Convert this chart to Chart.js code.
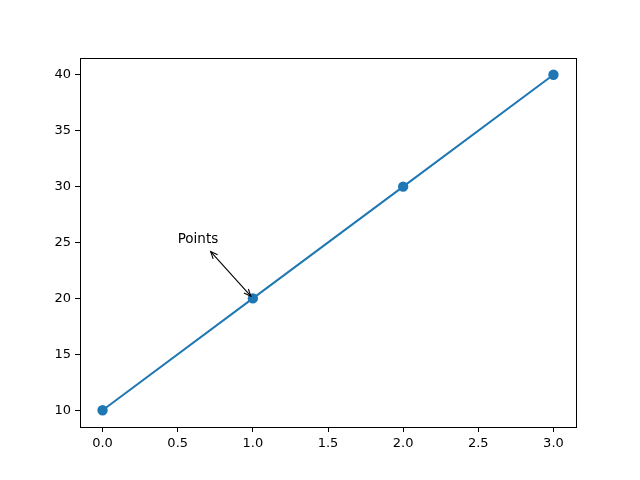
<!DOCTYPE html>
<html>
<head>
<meta charset="utf-8">
<script src="https://cdn.jsdelivr.net/npm/chart.js@4"></script>
<style>
  body { margin: 0; background: #fff; }
</style>
</head>
<body>
<canvas id="chart" width="640" height="480"></canvas>
<script>
const xValues = [0, 1, 2, 3]
const yValues = [10, 20, 30, 40]
const xTicks = [0, 0.5, 1, 1.5, 2, 2.5, 3]
const yTicks = [10, 15, 20, 25, 30, 35, 40]
const noteText = "Points"
const notePoint = [1, 20]
const noteTextAt = [0.5, 25]

const FONT = "'DejaVu Sans', sans-serif"

// box around the plot + the annotation with its two-headed arrow
const extras = {
  id: 'extras',
  afterDraw(chart) {
    const { ctx, chartArea: a, scales: { x, y } } = chart
    ctx.save()
    ctx.strokeStyle = '#000'
    ctx.lineWidth = 1
    ctx.strokeRect(Math.round(a.left) + 0.5, Math.round(a.top) + 0.5,
      Math.round(a.right - a.left), Math.round(a.bottom - a.top))

    const tx = x.getPixelForValue(noteTextAt[0])
    const ty = y.getPixelForValue(noteTextAt[1])
    ctx.font = '13.5px ' + FONT
    ctx.fillStyle = '#000'
    ctx.textBaseline = 'alphabetic'
    ctx.fillText(noteText, tx, ty)
    const w = ctx.measureText(noteText).width

    const cx = tx + w / 2, cy = ty - 5
    const px = x.getPixelForValue(notePoint[0])
    const py = y.getPixelForValue(notePoint[1])
    const dx = px - cx, dy = py - cy
    const len = Math.hypot(dx, dy)
    const ux = dx / len, uy = dy / len
    const sx = cx + ux * 19, sy = cy + uy * 19
    const ex = px - ux * 3, ey = py - uy * 3
    ctx.beginPath()
    ctx.moveTo(sx, sy)
    ctx.lineTo(ex, ey)
    ctx.lineWidth = 1.1
    ctx.stroke()
    const head = (hx, hy, dirx, diry) => {
      const l = 7, s = 3
      ctx.beginPath()
      ctx.moveTo(hx - dirx * l - diry * s, hy - diry * l + dirx * s)
      ctx.lineTo(hx, hy)
      ctx.lineTo(hx - dirx * l + diry * s, hy - diry * l - dirx * s)
      ctx.stroke()
    }
    head(ex, ey, ux, uy)
    head(sx, sy, -ux, -uy)
    ctx.restore()
  }
}

const axisCommon = {
  type: 'linear',
  grid: { display: true, drawOnChartArea: false, drawTicks: true, tickLength: 5, color: '#000', tickWidth: 1 },
  border: { display: false },
  ticks: { color: '#000', font: { family: FONT, size: 13 }, padding: 4 }
}

new Chart(document.getElementById('chart'), {
  type: 'line',
  data: {
    datasets: [{
      data: xValues.map((v, i) => ({ x: v, y: yValues[i] })),
      borderColor: '#1f77b4',
      backgroundColor: '#1f77b4',
      borderWidth: 2,
      pointRadius: 4.2,
      pointHoverRadius: 4.2,
      tension: 0
    }]
  },
  options: {
    responsive: false,
    animation: false,
    events: [],
    layout: { padding: { left: 0, right: 64, top: 58, bottom: 0 } },
    plugins: { legend: { display: false }, tooltip: { enabled: false } },
    scales: {
      x: {
        ...axisCommon,
        min: -0.15, max: 3.15,
        afterBuildTicks: s => { s.ticks = xTicks.map(v => ({ value: v })) },
        afterFit: s => { s.height = 53 },
        ticks: { ...axisCommon.ticks, callback: v => v.toFixed(1), maxRotation: 0 }
      },
      y: {
        ...axisCommon,
        min: 8.5, max: 41.5,
        afterBuildTicks: s => { s.ticks = yTicks.map(v => ({ value: v })) },
        afterFit: s => { s.width = 80 },
        ticks: { ...axisCommon.ticks, callback: v => String(v) }
      }
    }
  },
  plugins: [extras]
})
</script>
</body>
</html>
